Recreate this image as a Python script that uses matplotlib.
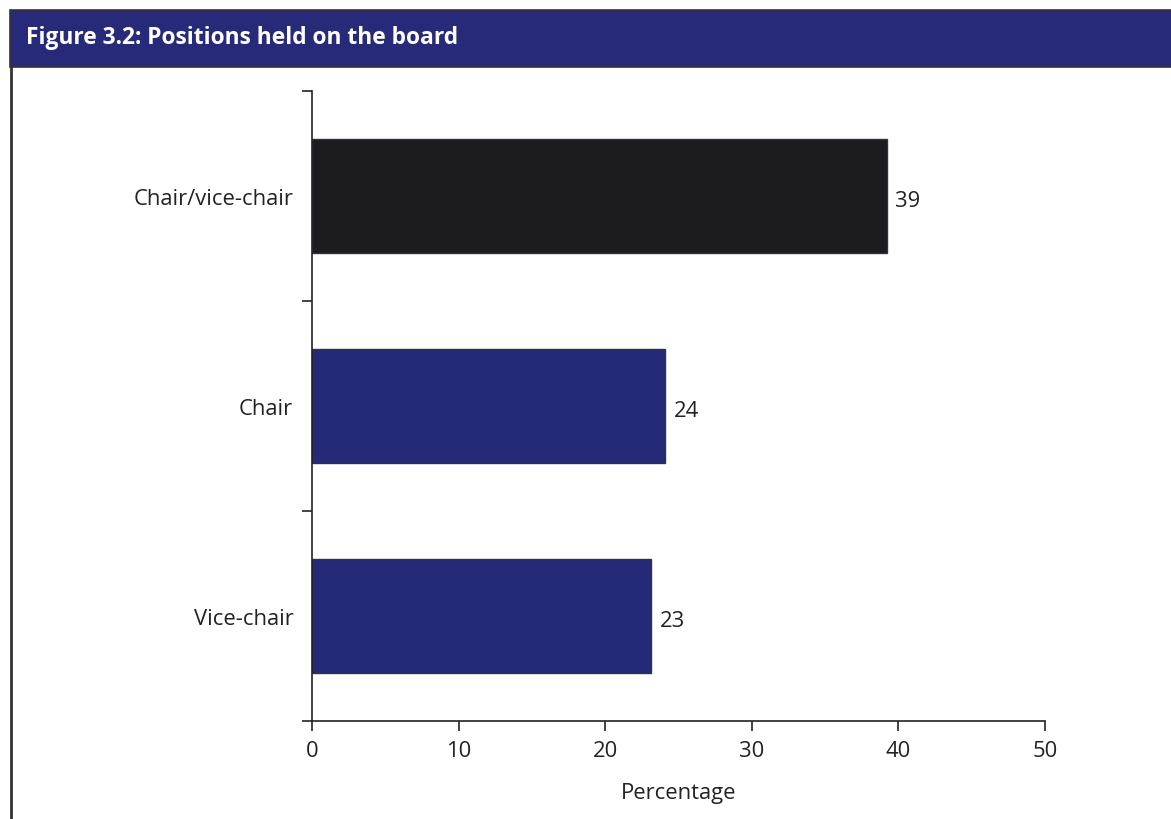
import matplotlib
matplotlib.use("Agg")
from matplotlib import pyplot as plt
from matplotlib.patches import Rectangle
from matplotlib.lines import Line2D

# data
categories = ["Chair/vice-chair", "Chair", "Vice-chair"]
values = [39.2, 24.1, 23.1]
labels = ["39", "24", "23"]
bar_colors = ["#1c1b20", "#252a78", "#252a78"]

plt.rcParams['font.family'] = ['Open Sans', 'DejaVu Sans']
fs = 15.8

fig = plt.figure(figsize=(11.71, 8.2), dpi=100)

# header band and frame
fig.patches.append(Rectangle((10 / 1171, 1 - 68 / 820), 1.0, 57 / 820,
                             transform=fig.transFigure, facecolor="#262a78",
                             edgecolor="#333333", linewidth=1.2))
fig.lines.append(Line2D([10.5 / 1171, 10.5 / 1171], [0, 1 - 68 / 820],
                        transform=fig.transFigure, color="#333333", linewidth=2))
fig.text(26 / 1171, 1 - 38 / 820, "Figure 3.2: Positions held on the board",
         color="white", fontsize=16.4, fontweight="bold", va="center", ha="left")

ax = fig.add_axes([312 / 1171, 1 - 722 / 820, (1045 - 312) / 1171, 630 / 820])
ypos = list(range(len(categories)))
ax.barh(ypos, values, height=0.54, color=bar_colors, edgecolor="#333333", linewidth=1)
for y, v, t in zip(ypos, values, labels):
    ax.text(v + 0.6, y + 0.02, t, va="center", ha="left", fontsize=fs, color="#222222")

ax.set_xlim(0, 50)
ax.set_ylim(2.5, -0.5)
ax.set_xticks([0, 10, 20, 30, 40, 50])
ax.set_yticks(ypos)
ax.set_yticklabels(categories)
ax.set_yticks([-0.5, 0.5, 1.5, 2.5], minor=True)
ax.tick_params(axis="y", which="major", length=0, pad=13.5, labelsize=fs, labelcolor="#222222")
ax.tick_params(axis="y", which="minor", length=7, width=1.2, direction="out", color="#222222")
ax.tick_params(axis="x", length=7, width=1.2, direction="out", labelsize=fs,
               labelcolor="#222222", color="#222222", pad=7)
ax.spines["top"].set_visible(False)
ax.spines["right"].set_visible(False)
for s in ["left", "bottom"]:
    ax.spines[s].set_linewidth(1.2)
    ax.spines[s].set_color("#222222")
ax.set_xlabel("Percentage", fontsize=fs, color="#222222", labelpad=15)

plt.savefig("out.png", dpi=100)
plt.close()
